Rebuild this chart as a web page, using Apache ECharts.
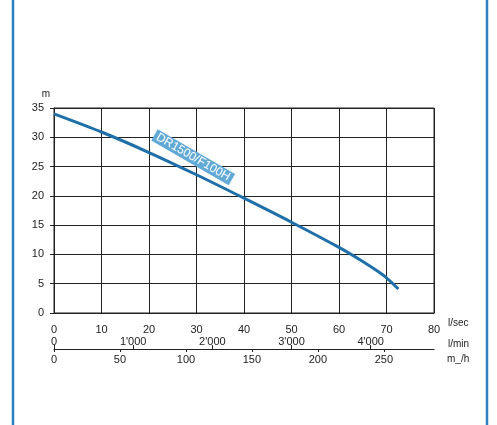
<!DOCTYPE html>
<html><head><meta charset="utf-8">
<script src="https://cdn.jsdelivr.net/npm/echarts@6/dist/echarts.min.js"></script>
<style>html,body{margin:0;padding:0;background:#fff}#c{width:497px;height:425px}</style>
</head><body><div id="c"></div>
<script>
// flow (l/sec) and head (m)
const flowLs = [0, 10, 20, 30, 40, 50, 60, 65, 68, 70, 72.5];
const headM  = [34, 30.9, 27.4, 23.6, 19.6, 15.5, 11.2, 8.8, 7.2, 6.0, 4.1];
const seriesName = 'DR1500/F100H';
const lminTicks = {0:'0', 1000:"1'000", 2000:"2'000", 3000:"3'000", 4000:"4'000"};

const chart = echarts.init(document.getElementById('c'), null, {renderer:'canvas'});
const font = 'Liberation Sans, Arial, sans-serif';
const blue = '#2e7fbf';
const gridColor = '#222';
chart.setOption({
  animation:false,
  backgroundColor:'#fff',
  graphic:[{type:'rect', shape:{x:13,y:-5,width:474,height:435}, style:{fill:'none', stroke:blue, lineWidth:2.5}}],
  grid:{left:54, right:63, top:108, bottom:112, show:true, borderColor:gridColor, borderWidth:1},
  xAxis:[
    {type:'value', min:0, max:80, interval:10, position:'bottom', offset:5,
     axisLine:{show:true, lineStyle:{color:gridColor, width:1}},
     axisTick:{show:true, inside:true, length:3, lineStyle:{color:gridColor}},
     axisLabel:{color:'#222', fontSize:11, fontFamily:font, margin:6},
     splitLine:{show:true, lineStyle:{color:gridColor, width:1}},
     name:'l/sec', nameLocation:'end', nameGap:14,
     nameTextStyle:{color:'#222', fontSize:10, fontFamily:font, verticalAlign:'top', align:'left', padding:[5,0,0,0]}},
    {type:'value', min:0, max:4800, interval:1000, position:'bottom', offset:36,
     axisLine:{show:true, lineStyle:{color:gridColor, width:1}},
     axisTick:{show:true, inside:true, length:4, lineStyle:{color:gridColor}},
     axisLabel:{inside:true, color:'#222', fontSize:11, fontFamily:font, margin:2, showMaxLabel:false,
       formatter:v => lminTicks[v] !== undefined ? lminTicks[v] : ''},
     splitLine:{show:false},
     name:'l/min', nameLocation:'end', nameGap:14,
     nameTextStyle:{color:'#222', fontSize:10, fontFamily:font, verticalAlign:'bottom', align:'left', padding:[0,0,0,0]}},
    {type:'value', min:0, max:288, interval:50, position:'bottom', offset:36,
     axisLine:{show:false},
     axisTick:{show:true, inside:false, length:3, lineStyle:{color:gridColor}},
     axisLabel:{color:'#222', fontSize:11, fontFamily:font, margin:5, showMaxLabel:false},
     splitLine:{show:false},
     name:'m_/h', nameLocation:'end', nameGap:13,
     nameTextStyle:{color:'#222', fontSize:10, fontFamily:font, verticalAlign:'top', align:'left', padding:[5,0,0,0]}}
  ],
  yAxis:{type:'value', min:0, max:35, interval:5, position:'left', offset:6,
     axisLine:{show:true, lineStyle:{color:gridColor, width:1}},
     axisTick:{show:true, inside:false, length:4, lineStyle:{color:gridColor}},
     axisLabel:{color:'#222', fontSize:11, fontFamily:font, margin:4},
     splitLine:{show:true, lineStyle:{color:gridColor, width:1}},
     name:'m', nameLocation:'end', nameGap:9,
     nameTextStyle:{color:'#222', fontSize:10, fontFamily:font, align:'right', padding:[0,4,0,0]}},
  series:[{
    type:'line', name:seriesName, xAxisIndex:0, smooth:0.3, symbol:'none',
    data: flowLs.map((x,i)=>[x, headM[i]]),
    lineStyle:{color:'#1f6fa8', width:3},
    markPoint:{symbol:'circle', symbolSize:0,
      data:[{coord:[29.3, 26.6], value:seriesName}],
      label:{show:true, formatter:seriesName, rotate:-30, color:'#fff', backgroundColor:'#62aad6',
        fontSize:12, fontFamily:font, padding:[1,3,0,3], position:'inside'}}
  }]
});
</script></body></html>
